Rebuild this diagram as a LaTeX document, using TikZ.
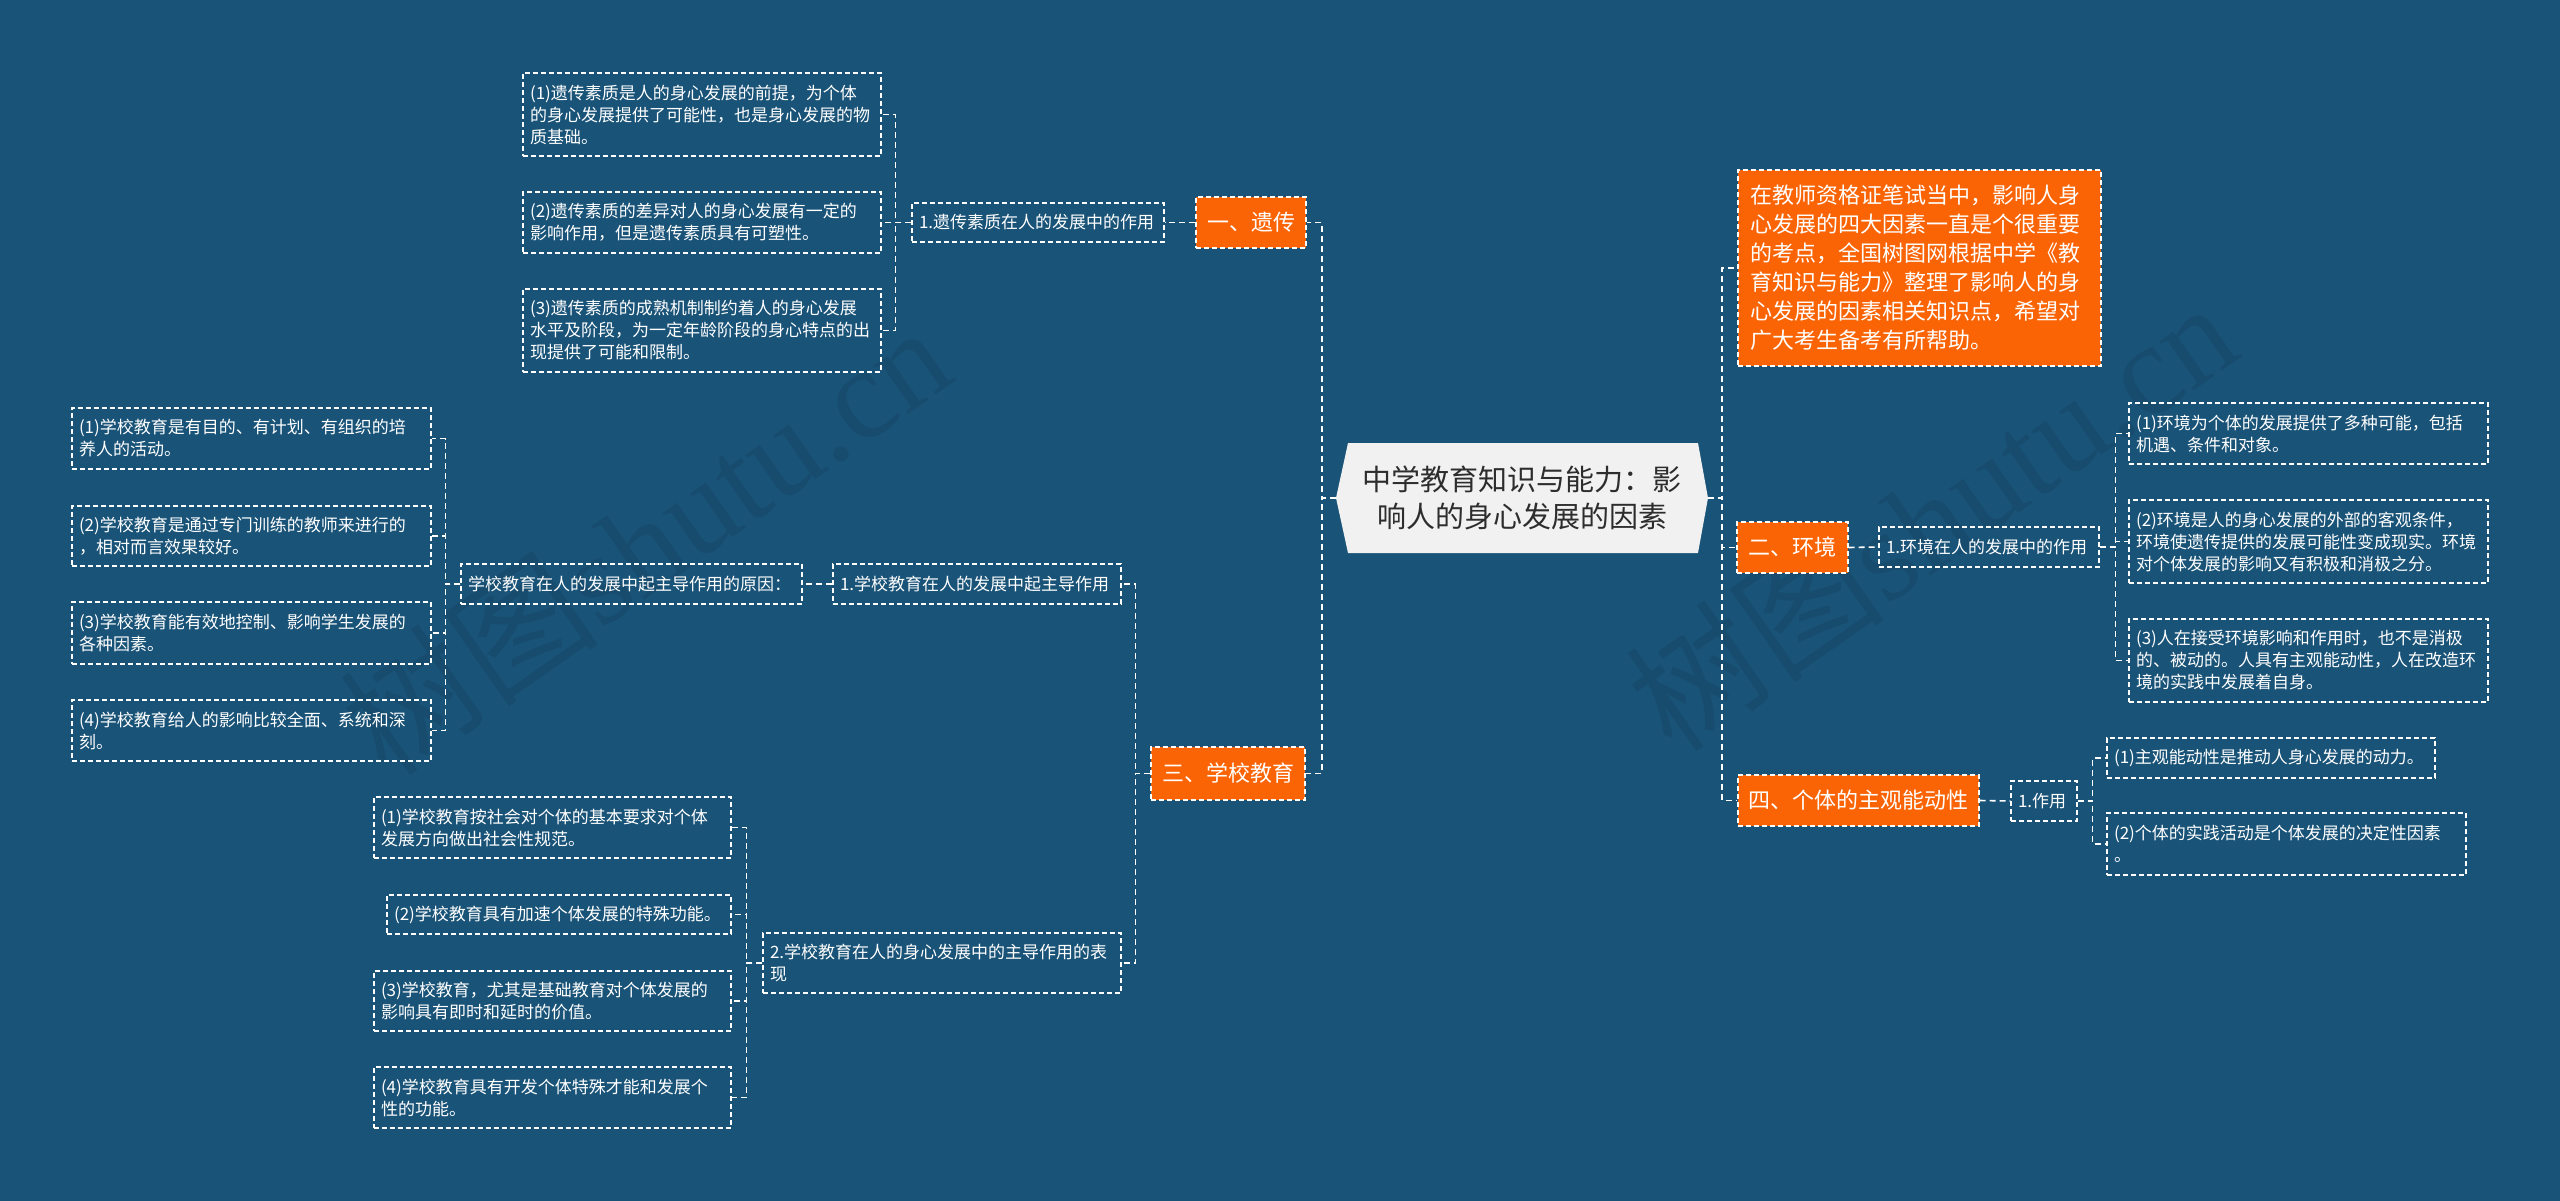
\documentclass[tikz,border=0pt]{standalone}
\usepackage{fontspec}
\setmainfont{Noto Sans CJK SC}
\newfontfamily\wmserif{Liberation Serif}
\usetikzlibrary{calc}
\definecolor{bg}{RGB}{25,83,120}
\definecolor{org}{RGB}{250,100,5}
\definecolor{rootfill}{RGB}{241,241,241}
\definecolor{roottext}{RGB}{45,45,45}
\tikzset{
  conn/.style={draw=white, line width=1.6pt, dash pattern=on 6pt off 4pt},
  leaf/.style={draw=white, line width=1.1pt, dash pattern=on 5pt off 3pt, text=white,
    font=\fontsize{17}{22}\selectfont, align=left, inner xsep=7pt, inner ysep=0pt},
  prim/.style={fill=org, draw=white, line width=1.1pt, dash pattern=on 5pt off 3pt, text=white,
    font=\fontsize{22}{28}\selectfont, inner sep=0pt},
  wm/.style={rotate=35, text=black, opacity=0.08, font=\fontsize{130}{135}\selectfont},
}
\begin{document}
\begin{tikzpicture}[x=1pt,y=-1pt]
\useasboundingbox (0,0) rectangle (2560,1201);
\fill[bg] (0,0) rectangle (2560,1201);
% watermarks
\node[wm] (wm1) at (645,539) {树图{\wmserif shutu.cn}};
\node[wm] (wm2) at (1931,515) {树图{\wmserif shutu.cn}};
% root
\fill[rootfill] (1336,498) -- (1348,443) -- (1698,443) -- (1708,498) -- (1698,553) -- (1348,553) -- cycle;
\node[minimum width=372pt, minimum height=110pt, inner sep=0pt, align=center, text=roottext,
  font=\fontsize{29}{37}\selectfont] (root) at (1522,498) {中学教育知识与能力：影\\响人的身心发展的因素};
% primary nodes
\node[prim, minimum width=110pt, minimum height=51pt] (A) at (1251,222.5) {一、遗传};
\node[prim, minimum width=154pt, minimum height=53pt] (C) at (1228,773.5) {三、学校教育};
\node[prim, text width=339pt, inner xsep=12pt, minimum height=196pt, align=left,
  font=\fontsize{22}{29}\selectfont] (I) at (1919.5,268) {在教师资格证笔试当中，影响人身\\心发展的四大因素一直是个很重要\\的考点，全国树图网根据中学《教\\育知识与能力》整理了影响人的身\\心发展的因素相关知识点，希望对\\广大考生备考有所帮助。};
\node[prim, minimum width=111pt, minimum height=51pt] (B) at (1792.5,547.5) {二、环境};
\node[prim, minimum width=241pt, minimum height=51pt] (D) at (1858.5,800.5) {四、个体的主观能动性};
% branch A
\node[leaf, text width=238pt, minimum height=39pt] (A1) at (1038,222.5) {1.遗传素质在人的发展中的作用};
\node[leaf, text width=344pt, minimum height=83pt] (A11) at (702,114.5) {(1)遗传素质是人的身心发展的前提，为个体\\的身心发展提供了可能性，也是身心发展的物\\质基础。};
\node[leaf, text width=344pt, minimum height=61pt] (A12) at (702,222.5) {(2)遗传素质的差异对人的身心发展有一定的\\影响作用，但是遗传素质具有可塑性。};
\node[leaf, text width=344pt, minimum height=83pt] (A13) at (702,330.5) {(3)遗传素质的成熟机制制约着人的身心发展\\水平及阶段，为一定年龄阶段的身心特点的出\\现提供了可能和限制。};
% branch C
\node[leaf, text width=274pt, minimum height=40pt] (C1) at (977,584) {1.学校教育在人的发展中起主导作用};
\node[leaf, text width=327pt, minimum height=40pt] (C11) at (631.5,584) {学校教育在人的发展中起主导作用的原因：};
\node[leaf, text width=345pt, minimum height=61pt] (S1) at (251.5,438.5) {(1)学校教育是有目的、有计划、有组织的培\\养人的活动。};
\node[leaf, text width=345pt, minimum height=60pt] (S2) at (251.5,536) {(2)学校教育是通过专门训练的教师来进行的\\，相对而言效果较好。};
\node[leaf, text width=345pt, minimum height=62pt] (S3) at (251.5,633) {(3)学校教育能有效地控制、影响学生发展的\\各种因素。};
\node[leaf, text width=345pt, minimum height=61pt] (S4) at (251.5,730.5) {(4)学校教育给人的影响比较全面、系统和深\\刻。};
\node[leaf, text width=344pt, minimum height=60pt] (C2) at (942,963) {2.学校教育在人的身心发展中的主导作用的表\\现};
\node[leaf, text width=343pt, minimum height=61pt] (T1) at (552.5,827.5) {(1)学校教育按社会对个体的基本要求对个体\\发展方向做出社会性规范。};
\node[leaf, text width=330pt, minimum height=39pt] (T2) at (559,914.5) {(2)学校教育具有加速个体发展的特殊功能。};
\node[leaf, text width=343pt, minimum height=60pt] (T3) at (552.5,1001) {(3)学校教育，尤其是基础教育对个体发展的\\影响具有即时和延时的价值。};
\node[leaf, text width=343pt, minimum height=61pt] (T4) at (552.5,1097.5) {(4)学校教育具有开发个体特殊才能和发展个\\性的功能。};
% branch B
\node[leaf, text width=206pt, minimum height=40pt] (B1) at (1989,547) {1.环境在人的发展中的作用};
\node[leaf, text width=345pt, minimum height=61pt] (R1) at (2308.5,433.5) {(1)环境为个体的发展提供了多种可能，包括\\机遇、条件和对象。};
\node[leaf, text width=345pt, minimum height=83pt] (R2) at (2308.5,541.5) {(2)环境是人的身心发展的外部的客观条件，\\环境使遗传提供的发展可能性变成现实。环境\\对个体发展的影响又有积极和消极之分。};
\node[leaf, text width=345pt, minimum height=83pt] (R3) at (2308.5,660.5) {(3)人在接受环境影响和作用时，也不是消极\\的、被动的。人具有主观能动性，人在改造环\\境的实践中发展着自身。};
% branch D
\node[leaf, text width=52pt, minimum height=40pt] (D1) at (2044,801) {1.作用};
\node[leaf, text width=314pt, minimum height=40pt] (F1) at (2271,758) {(1)主观能动性是推动人身心发展的动力。};
\node[leaf, text width=345pt, minimum height=62pt] (F2) at (2286.5,844) {(2)个体的实践活动是个体发展的决定性因素\\。};
% connectors
\draw[conn] (root.west) -- ++(-14,0) |- (A.east);
\draw[conn] (root.west) -- ++(-14,0) |- (C.east);
\draw[conn] (root.east) -- ++(14,0) |- (I.west);
\draw[conn] (root.east) -- ++(14,0) |- (B.west);
\draw[conn] (root.east) -- ++(14,0) |- (D.west);
\draw[conn] (A.west) -- (A1.east);
\foreach \n in {A11,A12,A13} \draw[conn] (A1.west) -- ++(-16,0) |- (\n.east);
\draw[conn] (C.west) -- ++(-15,0) |- (C1.east);
\draw[conn] (C.west) -- ++(-15,0) |- (C2.east);
\draw[conn] (C1.west) -- (C11.east);
\foreach \n in {S1,S2,S3,S4} \draw[conn] (C11.west) -- ++(-15,0) |- (\n.east);
\foreach \n in {T1,T2,T3,T4} \draw[conn] (C2.west) -- ++(-16,0) |- (\n.east);
\draw[conn] (B.east) -- (B1.west);
\foreach \n in {R1,R2,R3} \draw[conn] (B1.east) -- ++(16,0) |- (\n.west);
\draw[conn] (D.east) -- (D1.west);
\foreach \n in {F1,F2} \draw[conn] (D1.east) -- ++(15,0) |- (\n.west);
\end{tikzpicture}
\end{document}
